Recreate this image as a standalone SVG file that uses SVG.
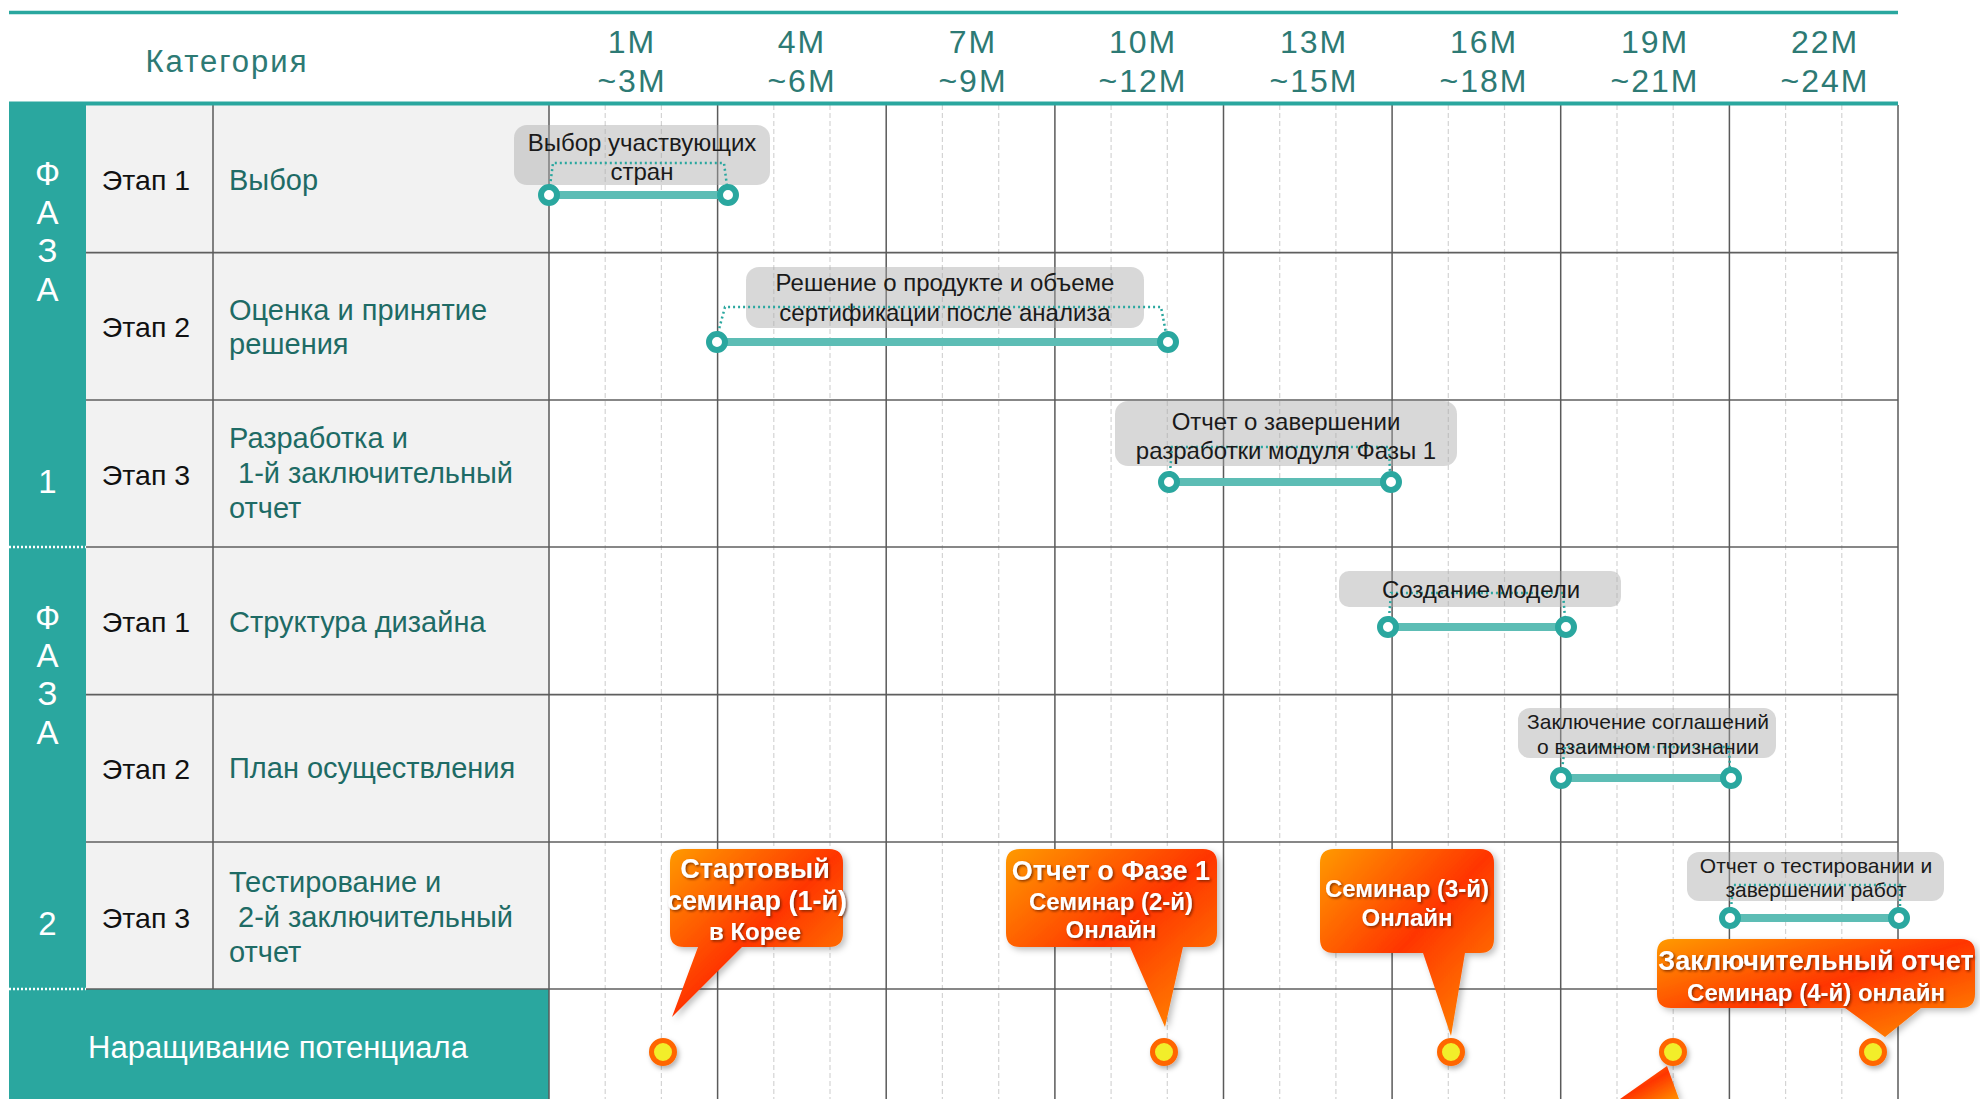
<svg xmlns="http://www.w3.org/2000/svg" width="1980" height="1099" viewBox="0 0 1980 1099">
<defs>
<style>
text{font-family:"Liberation Sans",Arial,sans-serif;}
.hdr{font-size:32px;fill:#2d7a74;letter-spacing:2px;text-anchor:middle;}
.phase{font-size:33px;fill:#ffffff;text-anchor:middle;}
.stage{font-size:28.5px;fill:#111111;text-anchor:middle;}
.cat{font-size:29px;fill:#1e6b65;}
.lbl{font-size:24px;fill:#1a1a1a;text-anchor:middle;}
.lbls{font-size:21px;fill:#1a1a1a;text-anchor:middle;}
.co{font-weight:bold;font-size:27px;fill:#ffffff;text-anchor:middle;filter:url(#tsh);}
.co2{font-weight:bold;font-size:24px;fill:#ffffff;text-anchor:middle;filter:url(#tsh);}
.box{fill:#a8a8a8;fill-opacity:0.45;}
.bar{stroke:#5dbdb5;stroke-width:8;}
.knob{fill:#ffffff;stroke:#2aa79f;stroke-width:6;}
.brk{fill:none;stroke:#2aa79f;stroke-width:2.5;stroke-dasharray:2 3;}
.vmain{stroke:#5a5a5a;stroke-width:1.5;}
.vdash{stroke:#d4d4d4;stroke-width:1.2;stroke-dasharray:5 3;}
.hrow{stroke:#5f5f5f;stroke-width:1.6;}
.callout{fill:url(#og);filter:url(#dsh);}
.dot{fill:#f2ee2c;stroke:#ff6600;stroke-width:5;filter:url(#dsh2);}
</style>
<linearGradient id="og" x1="0" y1="0" x2="1" y2="1">
<stop offset="0" stop-color="#ff9a00"/>
<stop offset="0.5" stop-color="#ff3500"/>
<stop offset="1" stop-color="#ff9000"/>
</linearGradient>
<filter id="tsh" x="-10%" y="-30%" width="120%" height="160%">
<feDropShadow dx="1.5" dy="1.5" stdDeviation="1" flood-color="#5a1a00" flood-opacity="0.7"/>
</filter>
<filter id="dsh" x="-10%" y="-10%" width="125%" height="125%">
<feDropShadow dx="3" dy="3" stdDeviation="3" flood-color="#000000" flood-opacity="0.25"/>
</filter>
<filter id="dsh2" x="-50%" y="-50%" width="200%" height="200%">
<feDropShadow dx="2" dy="3" stdDeviation="2.5" flood-color="#000000" flood-opacity="0.3"/>
</filter>
</defs>

<rect x="0" y="0" width="1980" height="1099" fill="#ffffff"/>

<g id="table-background">
<rect x="86" y="105" width="463" height="884" fill="#f2f2f2"/>
<rect x="9" y="105" width="77" height="994" fill="#2aa79f"/>
<rect x="9" y="989" width="540" height="110" fill="#2aa79f"/>
</g>

<g id="grid">
<line class="vdash" x1="605.2" y1="105" x2="605.2" y2="1099"/>
<line class="vdash" x1="661.4" y1="105" x2="661.4" y2="1099"/>
<line class="vdash" x1="773.8" y1="105" x2="773.8" y2="1099"/>
<line class="vdash" x1="830" y1="105" x2="830" y2="1099"/>
<line class="vdash" x1="942.4" y1="105" x2="942.4" y2="1099"/>
<line class="vdash" x1="998.7" y1="105" x2="998.7" y2="1099"/>
<line class="vdash" x1="1111.1" y1="105" x2="1111.1" y2="1099"/>
<line class="vdash" x1="1167.3" y1="105" x2="1167.3" y2="1099"/>
<line class="vdash" x1="1279.7" y1="105" x2="1279.7" y2="1099"/>
<line class="vdash" x1="1335.9" y1="105" x2="1335.9" y2="1099"/>
<line class="vdash" x1="1448.3" y1="105" x2="1448.3" y2="1099"/>
<line class="vdash" x1="1504.5" y1="105" x2="1504.5" y2="1099"/>
<line class="vdash" x1="1617" y1="105" x2="1617" y2="1099"/>
<line class="vdash" x1="1673.2" y1="105" x2="1673.2" y2="1099"/>
<line class="vdash" x1="1785.6" y1="105" x2="1785.6" y2="1099"/>
<line class="vdash" x1="1841.8" y1="105" x2="1841.8" y2="1099"/>
<line class="hrow" x1="86" y1="252.6" x2="1898" y2="252.6"/>
<line class="hrow" x1="86" y1="400" x2="1898" y2="400"/>
<line class="hrow" x1="86" y1="547" x2="1898" y2="547"/>
<line class="hrow" x1="86" y1="694.6" x2="1898" y2="694.6"/>
<line class="hrow" x1="86" y1="842" x2="1898" y2="842"/>
<line class="hrow" x1="86" y1="989" x2="1898" y2="989"/>
<line class="vmain" x1="213" y1="105" x2="213" y2="989"/>
<line class="vmain" x1="549" y1="105" x2="549" y2="1099"/>
<line class="vmain" x1="717.6" y1="105" x2="717.6" y2="1099"/>
<line class="vmain" x1="886.2" y1="105" x2="886.2" y2="1099"/>
<line class="vmain" x1="1054.9" y1="105" x2="1054.9" y2="1099"/>
<line class="vmain" x1="1223.5" y1="105" x2="1223.5" y2="1099"/>
<line class="vmain" x1="1392.1" y1="105" x2="1392.1" y2="1099"/>
<line class="vmain" x1="1560.7" y1="105" x2="1560.7" y2="1099"/>
<line class="vmain" x1="1729.4" y1="105" x2="1729.4" y2="1099"/>
<line class="vmain" x1="1898" y1="105" x2="1898" y2="1099"/>
<line x1="9" y1="547" x2="86" y2="547" stroke="#ffffff" stroke-width="2.5" stroke-dasharray="2 2"/>
<line x1="9" y1="989" x2="86" y2="989" stroke="#ffffff" stroke-width="2.5" stroke-dasharray="2 2"/>
<line x1="9" y1="12.5" x2="1898" y2="12.5" stroke="#2aa79f" stroke-width="3.5"/>
<line x1="9" y1="103.5" x2="1898" y2="103.5" stroke="#2aa79f" stroke-width="4"/>
</g>

<g id="header">
<text x="227" y="72" class="hdr" style="font-size:31px">Категория</text>
<text x="632" y="53" class="hdr">1M</text><text x="632" y="92" class="hdr">~3M</text>
<text x="802" y="53" class="hdr">4M</text><text x="802" y="92" class="hdr">~6M</text>
<text x="973" y="53" class="hdr">7M</text><text x="973" y="92" class="hdr">~9M</text>
<text x="1143" y="53" class="hdr">10M</text><text x="1143" y="92" class="hdr">~12M</text>
<text x="1314" y="53" class="hdr">13M</text><text x="1314" y="92" class="hdr">~15M</text>
<text x="1484" y="53" class="hdr">16M</text><text x="1484" y="92" class="hdr">~18M</text>
<text x="1655" y="53" class="hdr">19M</text><text x="1655" y="92" class="hdr">~21M</text>
<text x="1825" y="53" class="hdr">22M</text><text x="1825" y="92" class="hdr">~24M</text>
</g>

<g id="phase1">
<text x="47.5" y="185" class="phase">Ф</text>
<text x="47.5" y="224" class="phase">А</text>
<text x="47.5" y="262" class="phase">З</text>
<text x="47.5" y="301" class="phase">А</text>
<text x="47.5" y="493" class="phase">1</text>
</g>
<g id="phase2">
<text x="47.5" y="629" class="phase">Ф</text>
<text x="47.5" y="667" class="phase">А</text>
<text x="47.5" y="705" class="phase">З</text>
<text x="47.5" y="744" class="phase">А</text>
<text x="47.5" y="935" class="phase">2</text>
</g>

<g id="row-p1-s1">
<text x="146" y="190" class="stage">Этап 1</text>
<text x="229" y="190" class="cat">Выбор</text>
</g>
<g id="row-p1-s2">
<text x="146" y="337" class="stage">Этап 2</text>
<text x="229" y="320" class="cat">Оценка и принятие</text>
<text x="229" y="354" class="cat">решения</text>
</g>
<g id="row-p1-s3">
<text x="146" y="485" class="stage">Этап 3</text>
<text x="229" y="448" class="cat">Разработка и</text>
<text x="238" y="483" class="cat">1-й заключительный</text>
<text x="229" y="518" class="cat">отчет</text>
</g>
<g id="row-p2-s1">
<text x="146" y="632" class="stage">Этап 1</text>
<text x="229" y="632" class="cat">Структура дизайна</text>
</g>
<g id="row-p2-s2">
<text x="146" y="779" class="stage">Этап 2</text>
<text x="229" y="778" class="cat">План осуществления</text>
</g>
<g id="row-p2-s3">
<text x="146" y="928" class="stage">Этап 3</text>
<text x="229" y="892" class="cat">Тестирование и</text>
<text x="238" y="927" class="cat">2-й заключительный</text>
<text x="229" y="962" class="cat">отчет</text>
</g>
<g id="row-capacity">
<text x="278" y="1058" style="font-size:31px;fill:#ffffff;text-anchor:middle">Наращивание потенциала</text>
</g>

<g id="label-boxes">
<rect class="box" x="514" y="125" width="256" height="60" rx="13"/>
<rect class="box" x="746" y="267" width="398" height="61" rx="13"/>
<rect class="box" x="1115" y="401" width="342" height="65" rx="13"/>
<rect class="box" x="1339" y="571" width="282" height="36" rx="10"/>
<rect class="box" x="1518" y="708" width="258" height="50" rx="12"/>
<rect class="box" x="1687" y="852" width="257" height="49" rx="12"/>
</g>

<g id="connectors">
<path class="brk" d="M550 186 L553 163 H724 L727 186"/>
<path class="brk" d="M718 333 L725 307 H1161 L1166 333"/>
<path class="brk" d="M1170 473 L1172 447 H1389 L1390 473"/>
<path class="brk" d="M1389 618 L1391 593 H1563 L1565 618"/>
<path class="brk" d="M1562 769 L1565 747 H1729 L1730 769"/>
<path class="brk" d="M1731 909 L1733 885 H1900 L1900 909"/>
</g>

<g id="bar-select">
<line class="bar" x1="549" y1="195" x2="728" y2="195"/>
<circle class="knob" cx="549" cy="195" r="8"/><circle class="knob" cx="728" cy="195" r="8"/>
<text x="642" y="151" class="lbl">Выбор участвующих</text>
<text x="642" y="180" class="lbl">стран</text>
</g>
<g id="bar-decision">
<line class="bar" x1="717" y1="342" x2="1168" y2="342"/>
<circle class="knob" cx="717" cy="342" r="8"/><circle class="knob" cx="1168" cy="342" r="8"/>
<text x="945" y="291" class="lbl">Решение о продукте и объеме</text>
<text x="945" y="321" class="lbl">сертификации после анализа</text>
</g>
<g id="bar-report1">
<line class="bar" x1="1169" y1="482" x2="1391" y2="482"/>
<circle class="knob" cx="1169" cy="482" r="8"/><circle class="knob" cx="1391" cy="482" r="8"/>
<text x="1286" y="430" class="lbl">Отчет о завершении</text>
<text x="1286" y="459" class="lbl">разработки модуля Фазы 1</text>
</g>
<g id="bar-model">
<line class="bar" x1="1388" y1="627" x2="1566" y2="627"/>
<circle class="knob" cx="1388" cy="627" r="8"/><circle class="knob" cx="1566" cy="627" r="8"/>
<text x="1481" y="598" class="lbl">Создание модели</text>
</g>
<g id="bar-agreement">
<line class="bar" x1="1561" y1="778" x2="1731" y2="778"/>
<circle class="knob" cx="1561" cy="778" r="8"/><circle class="knob" cx="1731" cy="778" r="8"/>
<text x="1648" y="729" class="lbls">Заключение соглашений</text>
<text x="1648" y="754" class="lbls">о взаимном признании</text>
</g>
<g id="bar-testing">
<line class="bar" x1="1730" y1="918" x2="1899" y2="918"/>
<circle class="knob" cx="1730" cy="918" r="8"/><circle class="knob" cx="1899" cy="918" r="8"/>
<text x="1816" y="873" class="lbls">Отчет о тестировании и</text>
<text x="1816" y="897" class="lbls">завершении работ</text>
</g>

<g id="markers">
<circle class="dot" cx="663" cy="1052" r="11.5"/>
<circle class="dot" cx="1164" cy="1052" r="11.5"/>
<circle class="dot" cx="1451" cy="1052" r="11.5"/>
<circle class="dot" cx="1673" cy="1052" r="11.5"/>
<circle class="dot" cx="1873" cy="1052" r="11.5"/>
</g>

<g id="callout-1">
<path class="callout" d="M684 849 H829 Q843 849 843 863 V933 Q843 947 829 947 H742 L672 1017 L698 947 H684 Q670 947 670 933 V863 Q670 849 684 849 Z"/>
<text x="755" y="878" class="co">Стартовый</text>
<text x="757" y="910" class="co">семинар (1-й)</text>
<text x="755" y="940" class="co2">в Корее</text>
</g>
<g id="callout-2">
<path class="callout" d="M1020 849 H1203 Q1217 849 1217 863 V933 Q1217 947 1203 947 H1183 L1165 1027 L1130 947 H1020 Q1006 947 1006 933 V863 Q1006 849 1020 849 Z"/>
<text x="1111" y="880" class="co">Отчет о Фазе 1</text>
<text x="1111" y="910" class="co2">Семинар (2-й)</text>
<text x="1111" y="938" class="co2">Онлайн</text>
</g>
<g id="callout-3">
<path class="callout" d="M1334 849 H1480 Q1494 849 1494 863 V939 Q1494 953 1480 953 H1465 L1451 1036 L1423 953 H1334 Q1320 953 1320 939 V863 Q1320 849 1334 849 Z"/>
<text x="1407" y="897" class="co2">Семинар (3-й)</text>
<text x="1407" y="926" class="co2">Онлайн</text>
</g>
<g id="callout-4">
<path class="callout" d="M1671 939 H1961 Q1975 939 1975 953 V994 Q1975 1008 1961 1008 H1921 L1885 1037 L1845 1008 H1671 Q1657 1008 1657 994 V953 Q1657 939 1671 939 Z"/>
<text x="1816" y="970" class="co">Заключительный отчет</text>
<text x="1816" y="1001" class="co2">Семинар (4-й) онлайн</text>
</g>
<g id="callout-5">
<path class="callout" d="M1667 1066 L1679 1099 L1620 1099 Z"/>
</g>
</svg>
